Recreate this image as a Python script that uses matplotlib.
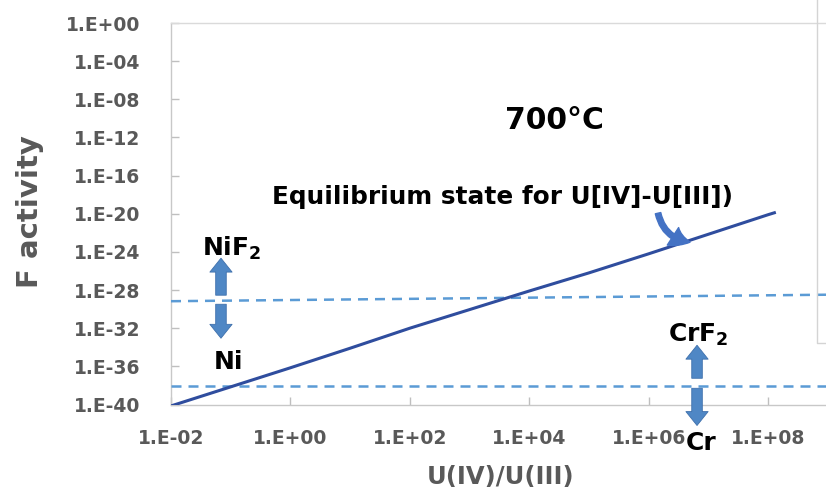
import matplotlib
matplotlib.use("Agg")
import matplotlib.pyplot as plt
from matplotlib.lines import Line2D
import numpy as np

plt.rcParams['font.family'] = ['DejaVu Sans']
plt.rcParams['mathtext.default'] = 'bf'

# ---- data (log10 values) ----
ratio_exp = [-2, -1, 0, 1, 2, 3, 4, 5, 6, 7, 8, 8.13]
factivity_exp = [-40.15, -38.15, -36.15, -34.1, -32.0, -30.05, -28.1, -26.2, -24.2, -22.15, -20.1, -19.85]

nif2_line_x_exp = [-2, 8.97]
nif2_line_y_exp = [-29.17, -28.49]
crf2_line_x_exp = [-2, 8.97]
crf2_line_y_exp = [-38.08, -38.08]

xtick_exp = [-2, 0, 2, 4, 6, 8]
ytick_exp = [0, -4, -8, -12, -16, -20, -24, -28, -32, -36, -40]

GREY = '#595959'
LINE = '#2F4D9E'
DASH = '#5B9BD5'
ARROW_FC = '#4F87C5'
ARROW_EC = '#3F70AC'

W, H = 826, 491
fig = plt.figure(figsize=(W / 100, H / 100), dpi=100)
ax = fig.add_axes([171 / W, 1 - 404.5 / H, (W - 171) / W, (404.5 - 23) / H])
ax.set_xscale('log')
ax.set_yscale('log')
ax.set_xlim(10.0 ** -2, 10.0 ** 8.97)
ax.set_ylim(10.0 ** -40, 10.0 ** 0)

p = lambda e: 10.0 ** np.asarray(e, dtype=float)

ax.plot(p(ratio_exp), p(factivity_exp), color=LINE, lw=2.2, solid_capstyle='butt', zorder=4)
ax.plot(p(nif2_line_x_exp), p(nif2_line_y_exp), color=DASH, lw=1.8, dashes=(4, 2.8), zorder=3, clip_on=False)
ax.plot(p(crf2_line_x_exp), p(crf2_line_y_exp), color=DASH, lw=1.8, dashes=(4, 2.8), zorder=3, clip_on=False)

# ticks
fmt = lambda e: "1.E%+03d" % e
ax.set_xticks(p(xtick_exp))
ax.set_xticklabels([fmt(e) for e in xtick_exp])
ax.set_yticks(p(ytick_exp))
ax.set_yticklabels([fmt(e) for e in ytick_exp])
ax.minorticks_off()
ax.tick_params(axis='both', direction='in', length=6, width=1, color='#BFBFBF',
               labelcolor=GREY, labelsize=13.5)
ax.tick_params(axis='y', pad=22)
ax.tick_params(axis='x', pad=18)
for lab in ax.get_xticklabels() + ax.get_yticklabels():
    lab.set_fontweight('bold')

for s in ['left', 'bottom']:
    ax.spines[s].set_color('#C8C8C8')
    ax.spines[s].set_linewidth(1)
ax.spines['top'].set_color('#DADADA')
ax.spines['top'].set_linewidth(1)
ax.spines['right'].set_visible(False)

# axis labels
fig.text(30 / W, 1 - 212 / H, 'F activity', rotation=90, ha='center', va='center',
         fontsize=21, fontweight='bold', color=GREY)
fig.text(501 / W, 1 - 477 / H, 'U(IV)/U(III)', ha='center', va='center',
         fontsize=17.5, fontweight='bold', color=GREY)

# frame artefact at right
fig.add_artist(Line2D([817 / W, 817 / W, 1.0], [1.0, 1 - 343 / H, 1 - 343 / H],
                      color='#D4D4D4', lw=1))

# annotations
ax.text(p(4.43), p(-10.18), '700°C', ha='center', va='center', fontsize=21.5,
        fontweight='bold', color='black')
ax.text(p(3.56), p(-18.99), 'Equilibrium state for U[IV]-U[III])', ha='center',
        va='baseline', fontsize=17.8, fontweight='bold', color='black')
ax.text(p(-0.98), p(-24.45), 'NiF$_2$', ha='center', va='baseline', fontsize=18,
        fontweight='bold', color='black')
ax.text(p(-1.045), p(-36.3), 'Ni', ha='center', va='baseline', fontsize=18,
        fontweight='bold', color='black')
ax.text(p(6.83), p(-33.47), 'CrF$_2$', ha='center', va='baseline', fontsize=18,
        fontweight='bold', color='black', zorder=6)
ax.text(p(6.88), p(-44.8), 'Cr', ha='center', va='baseline', fontsize=18,
        fontweight='bold', color='black', clip_on=False, zorder=6,
        bbox=dict(boxstyle='square,pad=0.05', fc='white', ec='none'))

block = 'simple,head_length=0.5,head_width=0.8,tail_width=0.38'


def block_arrow(x_exp, y_from, y_to):
    a = ax.annotate('', xy=(p(x_exp), p(y_to)), xytext=(p(x_exp), p(y_from)),
                    arrowprops=dict(arrowstyle=block, mutation_scale=20, fc=ARROW_FC,
                                    ec=ARROW_EC, lw=0.6, shrinkA=0, shrinkB=0),
                    annotation_clip=False, zorder=5)
    a.arrow_patch.set_clip_on(False)


block_arrow(-1.163, -28.54, -24.66)
block_arrow(-1.163, -29.49, -33.05)
block_arrow(6.81, -37.25, -33.79)
block_arrow(6.81, -38.3, -42.2)

# curved arrow pointing to the line
ca = ax.annotate('', xy=(p(6.693), p(-22.98)), xytext=(p(6.157), p(-19.94)),
                 arrowprops=dict(arrowstyle='simple,head_length=0.65,head_width=0.75,tail_width=0.2',
                                 mutation_scale=20, fc='#4472C4', ec='#4472C4',
                                 connectionstyle='arc3,rad=0.35', shrinkA=0, shrinkB=0),
                 annotation_clip=False, zorder=5)

fig.savefig('out.png', dpi=100)
